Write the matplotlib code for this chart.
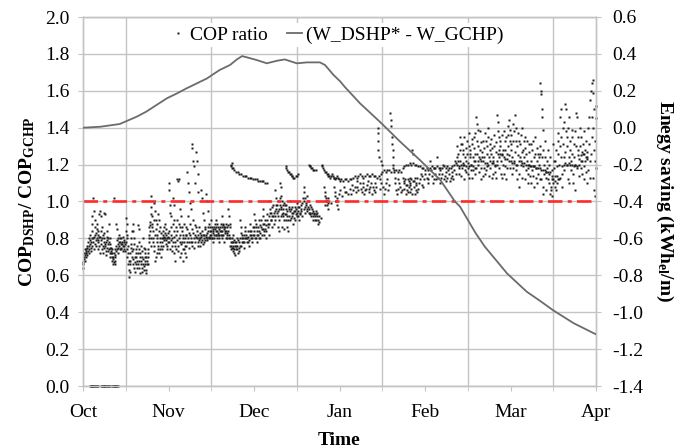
import numpy as np
import matplotlib
matplotlib.use('Agg')
import matplotlib.pyplot as plt
from matplotlib.lines import Line2D
from matplotlib.ticker import FuncFormatter

plt.rcParams['font.family'] = ['Liberation Serif', 'DejaVu Serif']
plt.rcParams['mathtext.fontset'] = 'custom'
plt.rcParams['mathtext.rm'] = 'Liberation Serif'
plt.rcParams['mathtext.bf'] = 'Liberation Serif:bold'
plt.rcParams['mathtext.it'] = 'Liberation Serif:italic'

# ---------------- data ----------------
months = ['Oct', 'Nov', 'Dec', 'Jan', 'Feb', 'Mar', 'Apr']   # x in months since 1 Oct

# energy saving line (kWh_el/m), right axis
energy_m = [0.00, 0.20, 0.43, 0.51, 0.63, 0.74, 0.86, 0.98, 1.10, 1.21, 1.33, 1.45, 1.54, 1.60,
            1.72, 1.80, 1.86, 1.92, 2.03, 2.15, 2.27, 2.36, 2.50, 2.62, 2.77, 2.83, 2.93, 3.01,
            3.06, 3.24, 3.47, 3.71, 3.94, 4.18, 4.35, 4.41, 4.59, 4.70, 4.96, 5.19, 5.35, 5.50,
            5.74, 6.00]
energy_kwh = [0.000, 0.005, 0.020, 0.036, 0.060, 0.087, 0.123, 0.159, 0.186, 0.213, 0.240, 0.267,
              0.295, 0.313, 0.340, 0.370, 0.388, 0.381, 0.367, 0.349, 0.363, 0.370, 0.349, 0.354,
              0.354, 0.340, 0.286, 0.250, 0.222, 0.132, 0.033, -0.076, -0.175, -0.284, -0.400,
              -0.428, -0.570, -0.645, -0.790, -0.889, -0.940, -0.990, -1.060, -1.120]

# COP ratio points (month, ratio)
cop_zero = [(0.08, 0.0), (0.09, 0.0), (0.10, 0.0), (0.11, 0.0), (0.12, 0.0), (0.13, 0.0), (0.14, 0.0),
            (0.15, 0.0), (0.16, 0.0), (0.17, 0.0), (0.21, 0.0), (0.22, 0.0), (0.23, 0.0), (0.24, 0.0),
            (0.25, 0.0), (0.26, 0.0), (0.27, 0.0), (0.28, 0.0), (0.29, 0.0), (0.30, 0.0), (0.31, 0.0),
            (0.34, 0.0), (0.35, 0.0), (0.36, 0.0), (0.37, 0.0), (0.38, 0.0), (0.39, 0.0), (0.40, 0.0),
            (0.41, 0.0)]

cop_oct = [(0.00,0.64),(0.00,0.66),(0.01,0.69),(0.01,0.72),(0.02,0.68),(0.02,0.71),(0.03,0.70),(0.03,0.73),
           (0.04,0.72),(0.04,0.74),(0.05,0.71),(0.05,0.75),(0.06,0.73),(0.07,0.76),(0.07,0.74),(0.08,0.77),
           (0.08,0.79),(0.09,0.75),(0.09,0.78),(0.10,0.92),(0.10,0.80),(0.11,0.76),(0.11,0.88),(0.12,1.02),
           (0.12,0.78),(0.13,0.95),(0.13,0.81),(0.14,0.90),(0.14,0.77),(0.15,0.83),(0.15,0.79),(0.16,0.85),
           (0.16,0.80),(0.17,0.82),(0.17,0.74),(0.18,0.84),(0.18,0.78),(0.19,0.93),(0.19,0.76),(0.20,0.95),
           (0.20,0.81),(0.21,0.92),(0.21,0.77),(0.22,0.80),(0.22,0.74),(0.23,0.72),(0.23,0.82),(0.24,0.78),
           (0.24,0.75),(0.25,0.94),(0.25,0.80),(0.26,0.93),(0.26,0.76),(0.27,0.78),(0.27,0.73),(0.28,0.84),
           (0.28,0.75),(0.29,0.80),(0.29,0.77),(0.30,0.88),(0.30,0.74),(0.31,0.80),(0.31,0.72),(0.32,0.77),
           (0.32,0.70),(0.33,0.75),(0.33,0.72),(0.34,0.74),(0.34,0.68),(0.35,0.70),(0.35,0.66),(0.36,1.02),
           (0.36,0.72),(0.37,0.68),(0.37,0.66),(0.38,0.74),(0.38,0.70),(0.39,0.88),(0.39,0.76),(0.40,0.85),
           (0.40,0.74),(0.41,0.80),(0.41,0.72),(0.42,0.78),(0.42,0.76),(0.43,0.74),(0.43,0.80),(0.44,0.77),
           (0.45,0.80),(0.45,0.75),(0.46,0.78),(0.47,0.73),(0.47,0.76),(0.48,0.79),(0.48,0.74),(0.49,0.77),
           (0.50,0.91),(0.50,0.78),(0.51,0.88),(0.51,0.74),(0.52,0.82),(0.52,0.70),(0.53,0.66),(0.53,0.72),
           (0.54,0.59),(0.54,0.63),(0.55,0.68),(0.55,0.72),(0.56,0.75),(0.56,0.80),(0.57,0.84),(0.57,0.70),
           (0.58,0.88),(0.58,0.66),(0.59,0.84),(0.59,0.74),(0.60,0.80),(0.60,0.64),(0.61,0.70),(0.61,0.62),
           (0.62,0.66),(0.62,0.74),(0.63,0.68),(0.63,0.64),(0.64,0.87),(0.64,0.72),(0.65,0.85),(0.65,0.68),
           (0.66,0.78),(0.66,0.64),(0.67,0.72),(0.67,0.61),(0.68,0.68),(0.68,0.76),(0.69,0.64),(0.69,0.70),
           (0.70,0.80),(0.70,0.66),(0.71,0.75),(0.71,0.63),(0.72,0.70),(0.72,0.68),(0.73,0.66),(0.73,0.72),
           (0.74,0.63),(0.74,0.70),(0.75,0.66),(0.76,0.70),(0.76,0.74),(0.77,0.78),(0.77,0.82),(0.77,0.86),
           (0.78,0.89),(0.78,0.84),(0.79,1.03),(0.79,0.80),(0.80,0.97),(0.80,0.76),(0.81,0.92),(0.81,0.88),
           (0.82,0.84),(0.82,0.80),(0.83,0.99),(0.83,0.73),(0.84,0.95),(0.84,0.68),(0.85,0.90),(0.85,0.85),
           (0.86,0.80),(0.86,0.72),(0.87,0.78),(0.87,0.82),(0.88,0.93),(0.88,0.76),(0.89,0.90),(0.89,0.72),
           (0.90,0.86),(0.90,0.80),(0.91,0.70),(0.91,0.76),(0.92,0.80),(0.92,0.74),(0.93,0.82),(0.94,0.84),
           (0.94,0.80),(0.95,0.81),(0.95,0.79),(0.96,0.88),(0.96,0.80),(0.97,0.77),(0.97,0.82),(0.98,0.74),
           (0.98,0.80),(0.99,0.78),(0.99,0.83),
           (0.005,0.67),(0.015,0.70),(0.025,0.74),(0.035,0.72),(0.045,0.76),(0.055,0.78),(0.065,0.80),
           (0.075,0.72),(0.085,0.82),(0.095,0.73),(0.105,0.84),(0.115,0.80),(0.125,0.74),(0.135,0.86),
           (0.145,0.82),(0.155,0.76),(0.165,0.88),(0.175,0.79),(0.185,0.81),(0.195,0.72),(0.205,0.84),
           (0.215,0.79),(0.225,0.86),(0.235,0.76),(0.245,0.83),(0.255,0.77),(0.265,0.71),(0.275,0.81),
           (0.285,0.79),(0.295,0.73),(0.305,0.78),(0.315,0.75),(0.325,0.73),(0.335,0.70),(0.345,0.72),
           (0.355,0.69),(0.365,0.67),(0.375,0.71),(0.385,0.73),(0.395,0.79),(0.405,0.77),(0.415,0.75),
           (0.425,0.82),(0.435,0.78),(0.445,0.74),(0.455,0.77),(0.465,0.81),(0.475,0.78),(0.485,0.76),
           (0.495,0.73),(0.505,0.84),(0.515,0.80),(0.525,0.76),(0.535,0.68),(0.545,0.66),(0.555,0.62),
           (0.565,0.77),(0.575,0.73),(0.585,0.69),(0.595,0.77),(0.605,0.67),(0.615,0.72),(0.625,0.70),
           (0.635,0.76),(0.645,0.66),(0.655,0.74),(0.665,0.70),(0.675,0.66),(0.685,0.62),(0.695,0.73),
           (0.705,0.69),(0.715,0.65),(0.725,0.74),(0.735,0.61),(0.745,0.68),(0.755,0.72),(0.765,0.66),
           (0.775,0.80),(0.785,0.87),(0.795,0.93),(0.805,0.86),(0.815,0.78),(0.825,0.90),(0.835,0.76),
           (0.845,0.82),(0.855,0.70),(0.865,0.88),(0.875,0.74),(0.885,0.84),(0.895,0.78),(0.905,0.74),
           (0.915,0.83),(0.925,0.78),(0.935,0.76),(0.945,0.86),(0.955,0.83),(0.965,0.79),(0.975,0.85),
           (0.985,0.76),(0.995,0.81)]

cop_nov = [(1.00,1.10),(1.00,0.80),(1.01,1.06),(1.01,0.78),(1.02,0.98),(1.02,0.74),(1.03,0.92),(1.03,0.82),
           (1.04,0.80),(1.04,0.76),(1.05,1.02),(1.05,0.78),(1.06,0.98),(1.06,0.72),(1.07,0.90),(1.07,0.84),
           (1.08,0.78),(1.08,0.68),(1.09,0.74),(1.09,0.82),(1.10,1.12),(1.10,0.90),(1.11,1.11),(1.11,0.76),
           (1.12,1.12),(1.12,0.88),(1.13,0.70),(1.13,0.78),(1.14,0.96),(1.14,0.82),(1.15,0.92),(1.15,0.72),
           (1.16,0.86),(1.16,0.78),(1.17,0.82),(1.17,0.68),(1.18,0.78),(1.18,0.74),(1.19,0.72),(1.19,0.80),
           (1.20,0.86),(1.20,0.76),(1.21,0.70),(1.21,0.82),(1.22,1.16),(1.22,0.85),(1.23,1.10),(1.23,0.80),
           (1.24,1.05),(1.24,0.75),(1.25,0.99),(1.25,0.82),(1.26,0.96),(1.26,0.78),(1.27,1.31),(1.27,0.85),
           (1.28,1.29),(1.28,0.78),(1.29,1.22),(1.29,0.90),(1.30,1.19),(1.30,0.75),(1.31,1.10),(1.31,0.82),
           (1.32,1.27),(1.32,0.86),(1.33,1.22),(1.33,0.80),(1.34,1.15),(1.34,0.76),(1.35,1.05),(1.35,0.82),
           (1.36,0.86),(1.36,0.79),(1.37,0.80),(1.37,0.76),(1.38,1.06),(1.38,0.82),(1.39,1.02),(1.39,0.79),
           (1.40,0.94),(1.40,0.77),(1.41,0.90),(1.41,0.80),(1.42,0.82),(1.43,0.79),(1.43,0.85),(1.44,1.04),
           (1.44,0.82),(1.45,1.00),(1.45,0.80),(1.46,0.95),(1.46,0.84),(1.47,0.88),(1.47,0.81),(1.48,0.82),
           (1.49,0.80),(1.49,0.86),(1.50,0.90),(1.50,0.84),(1.51,0.86),(1.51,0.80),(1.52,0.84),(1.52,0.78),
           (1.53,0.82),(1.53,0.86),(1.54,0.88),(1.55,0.90),(1.55,0.84),(1.56,0.86),(1.56,0.82),(1.57,0.84),
           (1.57,0.80),(1.58,0.82),(1.58,0.86),(1.59,0.80),(1.59,0.78),(1.60,0.84),(1.61,0.88),(1.61,0.82),
           (1.62,0.92),(1.62,0.86),(1.63,0.84),(1.63,0.80),(1.64,0.88),(1.64,0.82),(1.65,0.86),(1.65,0.78),
           (1.66,0.84),(1.67,0.80),(1.67,0.88),(1.68,0.82),(1.68,0.86),(1.69,0.80),(1.70,0.96),(1.70,0.84),
           (1.71,0.92),(1.71,0.80),(1.72,0.88),(1.72,0.76),(1.73,0.78),(1.73,0.74),(1.74,0.75),(1.74,0.80),
           (1.75,0.73),(1.75,0.78),(1.76,0.82),(1.76,0.76),(1.77,0.74),(1.77,0.72),(1.78,0.78),(1.78,0.71),
           (1.79,0.76),(1.80,0.74),(1.80,0.80),(1.81,0.72),(1.82,0.75),(1.83,0.78),(1.84,0.90),(1.84,0.80),
           (1.85,0.86),(1.85,0.76),(1.86,0.80),(1.87,0.78),(1.88,0.75),(1.88,0.82),(1.89,0.80),(1.90,0.84),
           (1.91,0.82),(1.92,0.80),(1.93,0.78),(1.94,0.76),(1.95,0.88),(1.95,0.82),(1.96,0.80),(1.97,0.84),
           (1.98,0.78),(1.99,0.82),
           (1.005,0.84),(1.015,0.94),(1.025,0.79),(1.035,0.86),(1.045,0.73),(1.055,0.88),(1.065,0.81),
           (1.075,0.76),(1.085,0.86),(1.095,0.79),(1.105,0.84),(1.115,0.73),(1.125,0.80),(1.135,0.86),
           (1.145,0.77),(1.155,0.84),(1.165,0.74),(1.175,0.80),(1.185,0.88),(1.195,0.76),(1.205,0.82),
           (1.215,0.78),(1.225,0.92),(1.235,0.83),(1.245,0.78),(1.255,0.88),(1.265,0.80),(1.275,0.76),
           (1.285,0.83),(1.295,0.80),(1.305,0.87),(1.315,0.78),(1.325,0.81),(1.335,0.84),(1.345,0.78),
           (1.355,0.80),(1.365,0.83),(1.375,0.81),(1.385,0.78),(1.395,0.84),(1.405,0.82),(1.415,0.78),
           (1.425,0.86),(1.435,0.81),(1.445,0.79),(1.455,0.83),(1.465,0.86),(1.475,0.80),(1.485,0.84),
           (1.495,0.82),(1.505,0.80),(1.515,0.85),(1.525,0.83),(1.535,0.80),(1.545,0.85),(1.555,0.82),
           (1.565,0.88),(1.575,0.83),(1.585,0.85),(1.595,0.82),(1.605,0.86),(1.615,0.84),(1.625,0.82),
           (1.635,0.87),(1.645,0.85),(1.655,0.83),(1.665,0.86),(1.675,0.84),(1.685,0.83),(1.695,0.87),
           (1.705,0.82),(1.715,0.86),(1.725,0.80),(1.735,0.76),(1.745,0.78),(1.755,0.75),(1.765,0.79),
           (1.775,0.76),(1.785,0.74),(1.795,0.78),(1.805,0.76),(1.815,0.79),(1.825,0.73),(1.835,0.76),
           (1.845,0.83),(1.855,0.78),(1.865,0.82),(1.875,0.80),(1.885,0.78),(1.895,0.86),(1.905,0.80),
           (1.915,0.78),(1.925,0.84),(1.935,0.81),(1.945,0.79),(1.955,0.84),(1.965,0.82),(1.975,0.80),
           (1.985,0.86),(1.995,0.84)]

cop_dec = [(2.00,0.93),(2.00,0.82),(2.01,0.90),(2.02,0.86),(2.02,0.80),(2.03,0.84),(2.04,0.78),(2.05,0.82),
           (2.06,0.90),(2.06,0.84),(2.07,0.80),(2.08,0.86),(2.09,0.82),(2.10,0.96),(2.10,0.85),(2.11,0.92),
           (2.12,0.88),(2.12,0.82),(2.13,0.85),(2.14,0.80),(2.15,0.90),(2.16,0.86),(2.17,0.82),(2.18,1.00),
           (2.18,0.88),(2.19,0.96),(2.20,0.94),(2.20,0.90),(2.21,0.86),(2.22,0.92),(2.23,0.88),(2.24,0.95),
           (2.25,1.06),(2.25,0.92),(2.26,1.02),(2.26,0.96),(2.27,0.98),(2.28,0.92),(2.28,0.86),(2.29,0.96),
           (2.29,0.84),(2.30,1.10),(2.30,0.98),(2.31,1.08),(2.31,0.92),(2.32,1.03),(2.32,0.96),(2.33,1.00),
           (2.33,0.86),(2.34,0.96),(2.34,0.92),(2.35,0.90),(2.35,0.85),(2.36,0.98),(2.37,0.96),(2.37,0.90),
           (2.38,0.93),(2.39,0.86),(2.39,0.92),(2.40,0.84),(2.41,0.96),(2.42,1.00),(2.42,0.90),(2.43,0.96),
           (2.44,0.94),(2.45,0.92),(2.46,0.88),(2.47,0.95),(2.48,0.90),(2.49,0.93),(2.50,0.99),(2.50,0.92),
           (2.51,0.97),(2.52,0.95),(2.53,0.90),(2.54,0.93),(2.55,0.96),(2.56,0.92),(2.58,1.08),(2.58,0.96),
           (2.59,1.05),(2.60,1.02),(2.60,0.94),(2.61,0.98),(2.62,0.96),(2.63,1.00),(2.64,0.94),(2.65,0.98),
           (2.66,0.94),(2.67,0.92),(2.68,0.96),(2.69,0.90),(2.70,0.94),(2.71,0.92),(2.72,0.95),(2.73,0.90),
           (2.74,0.92),(2.75,0.88),(2.76,0.89),(2.78,0.91),(2.82,1.08),(2.83,1.03),(2.84,1.00),(2.85,0.98),
           (2.86,0.96),(2.87,1.02),(2.90,0.99),(2.94,1.08),(2.95,1.03),(2.96,1.00),(2.97,0.98),(2.98,0.96),
           (2.99,1.04),
           (2.005,0.86),(2.015,0.80),(2.025,0.88),(2.035,0.82),(2.045,0.86),(2.055,0.80),(2.065,0.87),
           (2.075,0.83),(2.085,0.90),(2.095,0.85),(2.105,0.88),(2.115,0.84),(2.125,0.90),(2.135,0.87),
           (2.145,0.84),(2.155,0.93),(2.165,0.88),(2.175,0.92),(2.185,0.94),(2.195,0.90),(2.205,0.97),
           (2.215,0.92),(2.225,0.98),(2.235,0.94),(2.245,0.90),(2.255,0.98),(2.265,0.94),(2.275,1.00),
           (2.285,0.95),(2.295,0.90),(2.305,1.02),(2.315,0.97),(2.325,0.93),(2.335,0.98),(2.345,0.94),
           (2.355,0.99),(2.365,0.93),(2.375,0.98),(2.385,0.95),(2.395,0.90),(2.405,0.97),(2.415,0.92),
           (2.425,0.95),(2.435,0.91),(2.445,0.97),(2.455,0.94),(2.465,0.91),(2.475,0.97),(2.485,0.95),
           (2.495,0.96),(2.505,0.94),(2.515,0.92),(2.525,0.97),(2.535,0.94),(2.545,0.98),(2.555,0.95),
           (2.565,0.99),(2.575,1.02),(2.585,1.00),(2.595,0.97),(2.605,0.99),(2.615,0.95),(2.625,1.03),
           (2.635,0.97),(2.645,0.96),(2.655,0.93),(2.665,0.97),(2.675,0.94),(2.685,0.92),(2.695,0.95),
           (2.705,0.93),(2.715,0.90),(2.725,0.93),(2.735,0.94),(2.745,0.90),(2.755,0.92),(2.825,1.05),
           (2.835,0.98),(2.845,1.02),(2.855,1.00),(2.865,0.99),(2.945,1.05),(2.955,1.00),(2.965,1.02)]

cop_jan = [(3.03,1.03),(3.06,1.05),(3.10,1.04),(3.14,1.04),(3.16,1.06),(3.18,1.08),(3.20,1.11),(3.22,1.06),
           (3.24,1.10),(3.26,1.05),(3.28,1.08),(3.30,1.06),(3.32,1.09),(3.34,1.05),(3.36,1.08),(3.38,1.04),
           (3.40,1.06),(3.42,1.10),(3.45,1.40),(3.45,1.37),(3.45,1.33),(3.45,1.28),(3.46,1.24),(3.47,1.12),
           (3.47,1.07),(3.49,1.22),(3.50,1.20),(3.51,1.08),(3.52,1.04),(3.54,1.10),(3.57,1.06),(3.59,1.48),
           (3.60,1.44),(3.60,1.41),(3.61,1.35),(3.61,1.31),(3.62,1.28),(3.63,1.24),(3.63,1.20),(3.64,1.16),
           (3.65,1.13),(3.65,1.10),(3.66,1.06),(3.67,1.04),(3.68,1.07),(3.70,1.10),(3.72,1.05),(3.74,1.13),
           (3.75,1.10),(3.76,1.07),(3.77,1.12),(3.78,1.04),(3.79,1.06),(3.79,1.09),(3.80,1.12),(3.81,1.08),
           (3.82,1.05),(3.83,1.13),(3.83,1.10),(3.84,1.07),(3.85,1.28),(3.85,1.04),(3.86,1.26),(3.86,1.11),
           (3.87,1.08),(3.88,1.04),(3.88,1.13),(3.89,1.06),(3.90,1.10),(3.91,1.13),(3.92,1.07),(3.94,1.12),
           (3.95,1.15),(3.96,1.09),(3.98,1.08),
           (3.01,1.06),(3.05,1.08),(3.08,1.05),(3.12,1.07),(3.15,1.09),(3.19,1.05),(3.21,1.08),(3.25,1.07),
           (3.27,1.10),(3.29,1.04),(3.31,1.07),(3.33,1.11),(3.35,1.07),(3.37,1.10),(3.39,1.08),(3.41,1.05),
           (3.43,1.08),(3.48,1.10),(3.53,1.07),(3.55,1.12),(3.58,1.09),(3.69,1.12),(3.71,1.08),(3.73,1.06),
           (3.76,1.11),(3.78,1.09),(3.80,1.05),(3.81,1.11),(3.82,1.09),(3.84,1.12),(3.87,1.11),(3.89,1.09),
           (3.91,1.05),(3.93,1.10),(3.97,1.14),(3.99,1.12)]

cop_feb = [(4.02,1.13),(4.04,1.10),(4.06,1.22),(4.07,1.17),(4.08,1.14),(4.10,1.12),(4.12,1.15),(4.14,1.24),
           (4.15,1.13),(4.17,1.18),(4.18,1.10),(4.20,1.15),(4.22,1.12),(4.24,1.16),(4.26,1.13),(4.28,1.15),
           (4.29,1.11),(4.31,1.14),(4.34,1.17),(4.37,1.24),(4.39,1.22),(4.40,1.15),(4.41,1.35),(4.42,1.31),
           (4.43,1.18),(4.44,1.26),(4.45,1.28),(4.46,1.12),(4.47,1.24),(4.48,1.16),(4.49,1.33),(4.50,1.21),
           (4.51,1.30),(4.52,1.13),(4.53,1.26),(4.53,1.28),(4.54,1.17),(4.55,1.34),(4.55,1.13),(4.56,1.24),
           (4.57,1.22),(4.57,1.35),(4.58,1.22),(4.59,1.37),(4.59,1.15),(4.60,1.46),(4.61,1.42),(4.61,1.26),
           (4.62,1.39),(4.63,1.16),(4.64,1.28),(4.65,1.32),(4.66,1.12),(4.67,1.24),(4.68,1.33),(4.69,1.18),
           (4.70,1.37),(4.71,1.17),(4.72,1.30),(4.73,1.26),(4.74,1.40),(4.75,1.14),(4.76,1.28),(4.77,1.34),
           (4.78,1.13),(4.79,1.22),(4.80,1.24),(4.81,1.30),(4.82,1.16),(4.83,1.13),(4.84,1.47),(4.85,1.43),
           (4.85,1.26),(4.86,1.35),(4.87,1.18),(4.88,1.30),(4.89,1.22),(4.90,1.13),(4.91,1.28),(4.92,1.15),
           (4.93,1.33),(4.94,1.19),(4.95,1.12),(4.96,1.26),(4.97,1.36),(4.98,1.44),(4.99,1.39),(4.99,1.18),
           (4.005,1.15),(4.03,1.12),(4.05,1.15),(4.09,1.10),(4.11,1.18),(4.13,1.12),(4.16,1.15),(4.19,1.13),
           (4.21,1.20),(4.23,1.14),(4.25,1.11),(4.27,1.17),(4.30,1.13),(4.32,1.16),(4.33,1.12),(4.35,1.22),
           (4.36,1.15),(4.38,1.30),(4.385,1.26),(4.395,1.18),(4.405,1.28),(4.415,1.22),(4.425,1.14),
           (4.435,1.31),(4.445,1.20),(4.455,1.35),(4.465,1.17),(4.475,1.29),(4.485,1.22),(4.495,1.26),
           (4.505,1.15),(4.515,1.37),(4.525,1.24),(4.535,1.20),(4.545,1.31),(4.565,1.17),(4.575,1.29),
           (4.585,1.26),(4.605,1.33),(4.615,1.20),(4.625,1.30),(4.635,1.24),(4.645,1.38),(4.655,1.18),
           (4.665,1.27),(4.675,1.14),(4.685,1.29),(4.695,1.24),(4.705,1.15),(4.715,1.33),(4.725,1.19),
           (4.735,1.35),(4.745,1.24),(4.755,1.31),(4.765,1.18),(4.775,1.26),(4.785,1.29),(4.795,1.15),
           (4.805,1.36),(4.815,1.19),(4.825,1.27),(4.835,1.32),(4.845,1.22),(4.855,1.38),(4.865,1.28),
           (4.875,1.33),(4.885,1.15),(4.895,1.36),(4.905,1.26),(4.915,1.20),(4.925,1.38),(4.935,1.28),
           (4.945,1.35),(4.955,1.18),(4.965,1.41),(4.975,1.30),(4.985,1.25),(4.995,1.33)]

cop_mar = [(5.00,1.31),(5.01,1.28),(5.02,1.15),(5.03,1.42),(5.04,1.22),(5.05,1.47),(5.06,1.33),(5.07,1.40),
           (5.08,1.12),(5.09,1.37),(5.10,1.08),(5.11,1.31),(5.12,1.20),(5.13,1.40),(5.14,1.13),(5.15,1.28),
           (5.16,1.24),(5.17,1.35),(5.18,1.17),(5.19,1.22),(5.20,1.10),(5.21,1.15),(5.22,1.31),(5.23,1.19),
           (5.24,1.10),(5.25,1.28),(5.26,1.14),(5.27,1.24),(5.28,1.08),(5.29,1.35),(5.30,1.18),(5.31,1.10),
           (5.32,1.26),(5.33,1.24),(5.34,1.12),(5.35,1.64),(5.35,1.30),(5.36,1.60),(5.36,1.58),(5.37,1.50),
           (5.37,1.46),(5.38,1.39),(5.38,1.04),(5.39,1.20),(5.40,1.33),(5.41,1.16),(5.42,1.13),(5.43,1.22),
           (5.44,1.28),(5.45,1.10),(5.46,1.04),(5.47,1.08),(5.48,1.12),(5.49,1.03),(5.50,1.31),(5.51,1.18),
           (5.52,1.22),(5.53,1.06),(5.54,1.14),(5.55,1.26),(5.56,1.37),(5.57,1.20),(5.58,1.46),(5.59,1.50),
           (5.60,1.08),(5.61,1.40),(5.62,1.24),(5.63,1.17),(5.64,1.53),(5.65,1.50),(5.66,1.35),(5.67,1.12),
           (5.68,1.46),(5.69,1.10),(5.70,1.28),(5.71,1.22),(5.72,1.39),(5.73,1.15),(5.74,1.31),(5.75,1.06),
           (5.76,1.20),(5.77,1.48),(5.78,1.46),(5.79,1.25),(5.80,1.14),(5.81,1.40),(5.82,1.18),(5.83,1.35),
           (5.84,1.22),(5.85,1.31),(5.86,1.12),(5.87,1.28),(5.88,1.16),(5.89,1.24),(5.90,1.10),(5.91,1.40),
           (5.92,1.46),(5.93,1.55),(5.94,1.60),(5.95,1.64),(5.95,1.35),(5.96,1.66),(5.97,1.59),(5.97,1.13),
           (5.98,1.06),(5.98,1.28),(5.99,1.03),(5.99,1.22),(6.00,1.45),(6.00,1.18),
           (5.005,1.36),(5.015,1.24),(5.025,1.33),(5.035,1.18),(5.045,1.38),(5.055,1.27),(5.065,1.17),
           (5.075,1.30),(5.085,1.25),(5.095,1.15),(5.105,1.33),(5.115,1.24),(5.125,1.36),(5.135,1.27),
           (5.145,1.19),(5.155,1.33),(5.165,1.12),(5.175,1.29),(5.185,1.26),(5.195,1.33),(5.205,1.18),
           (5.215,1.27),(5.225,1.14),(5.235,1.31),(5.245,1.22),(5.255,1.17),(5.265,1.33),(5.275,1.19),
           (5.285,1.26),(5.295,1.13),(5.305,1.29),(5.315,1.22),(5.325,1.15),(5.335,1.20),(5.345,1.26),
           (5.355,1.12),(5.365,1.24),(5.375,1.08),(5.385,1.28),(5.395,1.15),(5.405,1.24),(5.415,1.06),
           (5.425,1.18),(5.435,1.12),(5.445,1.20),(5.455,1.15),(5.465,1.24),(5.475,1.06),(5.485,1.17),
           (5.495,1.10),(5.505,1.22),(5.515,1.08),(5.525,1.14),(5.535,1.28),(5.545,1.19),(5.555,1.33),
           (5.565,1.12),(5.575,1.30),(5.585,1.24),(5.595,1.35),(5.605,1.15),(5.615,1.31),(5.625,1.43),
           (5.635,1.27),(5.645,1.38),(5.655,1.20),(5.665,1.30),(5.675,1.40),(5.685,1.24),(5.695,1.33),
           (5.705,1.17),(5.715,1.35),(5.725,1.26),(5.735,1.10),(5.745,1.24),(5.755,1.38),(5.765,1.30),
           (5.775,1.18),(5.785,1.35),(5.795,1.28),(5.805,1.20),(5.815,1.30),(5.825,1.22),(5.835,1.15),
           (5.845,1.26),(5.855,1.38),(5.865,1.19),(5.875,1.22),(5.885,1.33),(5.895,1.27),(5.905,1.17),
           (5.915,1.31),(5.925,1.22),(5.935,1.13),(5.945,1.26),(5.955,1.46),(5.965,1.40),(5.975,1.50),
           (5.985,1.33),(5.995,1.52)]

# dense saw-tooth runs of the COP ratio (late Nov - Mar)
cop_saw_dec = [(1.73,1.20),(1.73,1.19),(1.74,1.21),(1.74,1.18),(1.75,1.18),(1.77,1.17),(1.79,1.16),(1.81,1.16),
               (1.83,1.15),(1.85,1.15),(1.87,1.14),(1.89,1.14),(1.91,1.14),(1.93,1.13),(1.95,1.13),(1.97,1.13),
               (1.99,1.12),(2.01,1.12),(2.03,1.12),(2.05,1.11),(2.07,1.11),(2.09,1.11),(2.11,1.11),(2.13,1.10),
               (2.15,1.10),
               (2.37,1.19),(2.38,1.18),(2.39,1.17),(2.40,1.16),(2.41,1.16),(2.42,1.15),(2.43,1.15),(2.44,1.14),
               (2.45,1.14),(2.46,1.13),(2.47,1.13),(2.49,1.14),(2.50,1.14),(2.51,1.15),
               (2.64,1.20),(2.65,1.19),(2.66,1.19),(2.67,1.18),(2.68,1.18),(2.69,1.17),(2.70,1.17),(2.72,1.17),
               (2.79,1.20),(2.80,1.19),(2.81,1.18),(2.82,1.17),(2.83,1.16),(2.84,1.16),(2.85,1.15),(2.86,1.15),
               (2.87,1.14),(2.88,1.14),(2.89,1.13),(2.90,1.14),(2.91,1.15),(2.92,1.14),(2.93,1.13),(2.94,1.13),
               (2.95,1.12),(2.96,1.13),(2.97,1.14),(2.98,1.13),(2.99,1.12)]

cop_saw_jan = [(3.00,1.11),(3.02,1.12),(3.04,1.11),(3.06,1.12),(3.08,1.12),(3.10,1.11),(3.12,1.12),(3.14,1.12),
               (3.16,1.13),(3.18,1.14),(3.20,1.13),(3.22,1.14),(3.24,1.15),(3.26,1.14),(3.28,1.13),(3.30,1.14),
               (3.32,1.15),(3.34,1.14),(3.36,1.14),(3.38,1.15),(3.40,1.14),(3.42,1.14),(3.44,1.13),(3.46,1.14),
               (3.48,1.15),(3.50,1.16),(3.52,1.17),(3.54,1.16),(3.56,1.17),(3.58,1.17),(3.60,1.16),(3.62,1.18),
               (3.64,1.17),(3.66,1.17),(3.68,1.16),(3.70,1.17),(3.72,1.16),(3.74,1.18),(3.76,1.19),(3.78,1.20),
               (3.80,1.20),(3.82,1.21),(3.84,1.20),(3.86,1.21),(3.88,1.20),(3.90,1.20),(3.92,1.19),(3.94,1.19),
               (3.96,1.18),(3.98,1.18)]

cop_saw_feb = [(4.00,1.17),(4.02,1.18),(4.04,1.17),(4.06,1.18),(4.08,1.19),(4.10,1.18),(4.12,1.18),(4.14,1.19),
               (4.16,1.18),(4.18,1.17),(4.20,1.18),(4.22,1.19),(4.24,1.18),(4.26,1.19),(4.28,1.18),(4.30,1.18),
               (4.32,1.19),(4.34,1.20),(4.36,1.21),(4.38,1.20),(4.40,1.19),(4.42,1.20),(4.44,1.21),(4.46,1.20),
               (4.48,1.19),(4.50,1.18),(4.52,1.19),(4.54,1.20),(4.56,1.19),(4.58,1.18),(4.60,1.18),(4.62,1.22),
               (4.64,1.23),(4.66,1.22),(4.68,1.22),(4.70,1.21),(4.72,1.21),(4.74,1.20),(4.76,1.22),(4.78,1.21),
               (4.80,1.21),(4.82,1.20),(4.84,1.20),(4.86,1.24),(4.88,1.26),(4.90,1.25),(4.92,1.24),(4.94,1.23),
               (4.96,1.23),(4.98,1.22)]

cop_saw_mar = [(5.00,1.22),(5.02,1.21),(5.04,1.21),(5.06,1.20),(5.08,1.20),(5.10,1.22),(5.12,1.22),(5.14,1.21),
               (5.16,1.21),(5.18,1.20),(5.20,1.20),(5.22,1.20),(5.24,1.19),(5.26,1.19),(5.28,1.19),(5.30,1.18),
               (5.32,1.18),(5.34,1.18),(5.36,1.17),(5.38,1.17),(5.40,1.17),(5.42,1.16),(5.44,1.16),(5.46,1.16),
               (5.48,1.14),(5.50,1.12),(5.52,1.11),(5.54,1.10),(5.56,1.12),(5.58,1.13),(5.60,1.19),(5.62,1.20),
               (5.64,1.21),(5.66,1.20),(5.68,1.21),(5.70,1.20),(5.72,1.20),(5.74,1.19),(5.76,1.20),(5.78,1.19),
               (5.80,1.23),(5.82,1.25),(5.84,1.27),(5.86,1.26),(5.88,1.24),(5.90,1.23)]

threshold = 1.0

# ---------------- figure ----------------
W, H = 687, 448
fig = plt.figure(figsize=(W / 100, H / 100), dpi=100)
ax = fig.add_axes([83 / W, 62 / H, 513 / W, 369 / H])
ax2 = ax.twinx()

grid_c = '#c4c4c4'
pt_c = '#1c1c1c'

def xy(pts):
    return [p[0] for p in pts], [p[1] for p in pts]

for grp in (cop_zero, cop_oct, cop_nov, cop_dec, cop_jan, cop_feb, cop_mar):
    x, y = xy(grp)
    ax.plot(x, y, ls='none', marker='s', ms=1.5, mec='none', mfc=pt_c, zorder=3, clip_on=False)
for grp in (cop_saw_dec, cop_saw_jan, cop_saw_feb, cop_saw_mar):
    x, y = xy(grp)
    ax.plot(x, y, ls='none', marker='s', ms=1.9, mec='none', mfc=pt_c, zorder=3)

ax.axhline(threshold, color='#ff2a2a', lw=1.9, dashes=(5.5, 2, 1.5, 2), zorder=4)

ax2.plot(energy_m, energy_kwh, color='#6b6b6b', lw=1.3, zorder=5)

ax.set_xlim(0, 6)
ax.set_ylim(0, 2)
ax2.set_ylim(-1.4, 0.6)

ax.set_xticks(range(7))
ax.set_xticklabels(months)
ax.set_xticks(np.arange(0.5, 6, 1.0), minor=True)
ax.set_yticks(np.arange(0, 2.01, 0.2))
ax2.set_yticks(np.arange(-1.4, 0.61, 0.2))
fmt = FuncFormatter(lambda v, p: f'{round(v, 1) + 0.0:.1f}')
ax.yaxis.set_major_formatter(fmt)
ax2.yaxis.set_major_formatter(fmt)

ax.grid(False)
ax.xaxis.grid(True, which='minor', color=grid_c, lw=1.0, zorder=0)
ax.yaxis.grid(True, which='major', color=grid_c, lw=1.0, zorder=0)
ax.set_axisbelow(True)

for a in (ax, ax2):
    for s in a.spines.values():
        s.set_color(grid_c)
        s.set_linewidth(1.0)

ax.tick_params(axis='x', which='both', direction='out', length=3.6, color=grid_c,
               labelsize=14, pad=9)
ax.tick_params(axis='y', direction='out', length=3.6, color=grid_c, labelsize=14, pad=6)
ax2.tick_params(axis='y', direction='out', length=3.6, color=grid_c, labelsize=14, pad=8)

ax.set_xlabel('Time', fontsize=14, fontweight='bold', labelpad=8)
ax.set_ylabel(r'$\mathbf{COP_{DSHP}/\ COP_{GCHP}}$', fontsize=14, labelpad=6)
ax2.set_ylabel(r'Enegy saving (kWh$_{\mathbf{el}}$/m)', fontsize=14, fontweight='bold',
               rotation=270, va='bottom', labelpad=8)

h1 = Line2D([], [], ls='none', marker='s', ms=1.8, mec='none', mfc=pt_c)
h2 = Line2D([], [], color='#6b6b6b', lw=1.3)
leg = ax2.legend([h1, h2], ['COP ratio', '(W_DSHP* - W_GCHP)'], loc='center',
                 bbox_to_anchor=(0.495, 0.951), ncol=2, fontsize=14, frameon=True,
                 facecolor='white', edgecolor='none', framealpha=1.0, handlelength=0.8,
                 handletextpad=0.2, columnspacing=1.0, borderpad=0.15, borderaxespad=0)
leg.set_zorder(10)

fig.savefig('out.png', dpi=100)
